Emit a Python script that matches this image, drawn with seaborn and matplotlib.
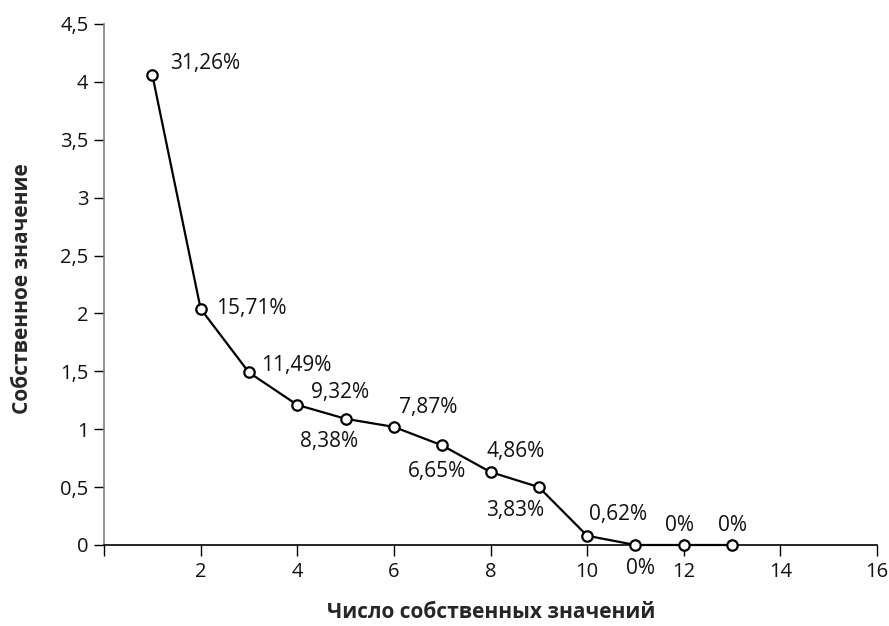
import matplotlib
matplotlib.use("Agg")
import matplotlib.pyplot as plt
import seaborn as sns
import pandas as pd

# eigenvalue number, eigenvalue, share of variance
components = [1, 2, 3, 4, 5, 6, 7, 8, 9, 10, 11, 12, 13]
eigenvalues = [4.06, 2.04, 1.49, 1.21, 1.09, 1.02, 0.86, 0.63, 0.50, 0.08, 0.0, 0.0, 0.0]
shares = ["31,26%", "15,71%", "11,49%", "9,32%", "8,38%", "7,87%", "6,65%",
          "4,86%", "3,83%", "0,62%", "0%", "0%", "0%"]

# label offsets in points (dx, dy, ha)
offsets = [(13, 8, "left"), (11, 0, "left"), (9, 5, "left"), (10, 9, "left"),
           (-12, -16, "center"), (4, 14, "left"), (-4, -19, "center"),
           (-3, 15, "left"), (-17, -17, "center"), (1, 15, "left"),
           (4, -17, "center"), (-3, 14, "center"), (0, 14, "center")]

y_ticks = [0, 0.5, 1, 1.5, 2, 2.5, 3, 3.5, 4, 4.5]
y_labels = ["0", "0,5", "1", "1,5", "2", "2,5", "3", "3,5", "4", "4,5"]
x_ticks = [0, 2, 4, 6, 8, 10, 12, 14, 16]
x_labels = ["", "2", "4", "6", "8", "10", "12", "14", "16"]

df = pd.DataFrame({"n": components, "ev": eigenvalues})

sns.set_style("white")
plt.rcParams["font.family"] = ["Open Sans", "DejaVu Sans"]

fig = plt.figure(figsize=(8.89, 6.26), dpi=100)
ax = fig.add_axes([0.117, 0.1294, 0.8695, 0.8323])

sns.lineplot(data=df, x="n", y="ev", ax=ax, color="black", linewidth=1.6,
             marker="o", markersize=7.5, markerfacecolor="white",
             markeredgecolor="black", markeredgewidth=1.6, clip_on=False,
             zorder=3)

for x, y, s, (dx, dy, ha) in zip(components, eigenvalues, shares, offsets):
    ax.annotate(s, (x, y), xytext=(dx, dy), textcoords="offset points",
                ha=ha, va="center", fontsize=15, color="#111111")

ax.set_xlim(0, 16)
ax.set_ylim(0, 4.5)
ax.set_xticks(x_ticks)
ax.set_xticklabels(x_labels)
ax.set_yticks(y_ticks)
ax.set_yticklabels(y_labels)
ax.tick_params(axis="both", labelsize=14.5, direction="out", width=1,
               color="black", left=True, bottom=True, labelcolor="#111111")
ax.tick_params(axis="y", length=7.2, pad=4)
ax.tick_params(axis="x", length=8, pad=4)
ax.xaxis.get_major_ticks()[0].tick1line.set_color("#7f7f7f")

for side in ["top", "right"]:
    ax.spines[side].set_visible(False)
ax.spines["left"].set_color("#7f7f7f")
ax.spines["left"].set_linewidth(1.2)
ax.spines["bottom"].set_color("black")
ax.spines["bottom"].set_linewidth(1.2)
ax.set_xlabel("")
ax.set_ylabel("")

fig.text(491 / 889, 1 - 612 / 626, "Число собственных значений", ha="center",
         va="center", fontsize=15, fontweight="bold")
fig.text(23 / 889, 1 - 289 / 626, "Собственное значение", ha="center",
         va="center", rotation=90, fontsize=15, fontweight="bold")

fig.savefig("out.png", dpi=100)
